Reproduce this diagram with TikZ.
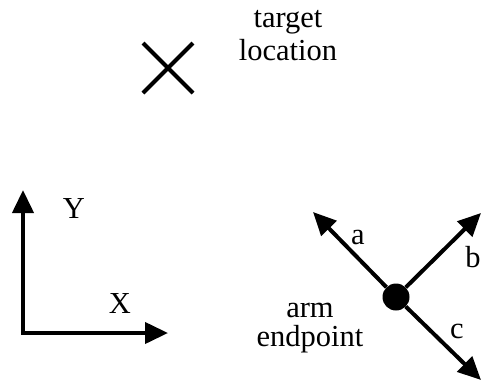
\documentclass[tikz,border=0pt]{standalone}
\usepackage{fontspec}
\setmainfont{Liberation Serif}
\usetikzlibrary{arrows.meta}
\begin{document}
\begin{tikzpicture}[x=1pt,y=-1pt,
  thickline/.style={line width=4pt},
  arr/.style={thickline, -{Triangle[length=23pt,width=21pt]}},
  lbl/.style={font=\fontsize{30.5}{33}\selectfont, inner sep=0pt, align=center}]
\useasboundingbox (0,0) rectangle (482,381);
\clip (0,0) rectangle (482,381);
% target cross
\coordinate (target) at (168,68);
\draw[thickline] ([shift={(-25,-25)}]target) -- ([shift={(25,25)}]target)
                 ([shift={(-25,25)}]target) -- ([shift={(25,-25)}]target);
\node[lbl] (tlabel) at (288,36) {target\\location};
% axes
\coordinate (O) at (23,333);
\coordinate (Ytip) at (23,190);
\coordinate (Xtip) at (168,333);
\draw[arr] ([yshift=2pt]O) -- (Ytip);
\draw[arr] ([xshift=-2pt]O) -- (Xtip);
\node[lbl] (Ylabel) at (74,209) {Y};
\node[lbl] (Xlabel) at (120,304) {X};
% arm endpoint
\node[circle, fill, minimum size=27pt, inner sep=0pt] (dot) at (396,297) {};
\coordinate (atip) at (313,212);
\coordinate (btip) at (481,213);
\coordinate (ctip) at (481,380);
\draw[arr] (dot) -- (atip);
\draw[arr] (dot) -- (btip);
\draw[arr] (dot) -- (ctip);
\node[lbl] (alabel) at (358,237) {a};
\node[lbl] (blabel) at (473,257) {b};
\node[lbl] (clabel) at (457,331) {c};
\node[lbl, font=\fontsize{30.5}{29}\selectfont] (armlabel) at (310,328) {arm\\endpoint};
\end{tikzpicture}
\end{document}
